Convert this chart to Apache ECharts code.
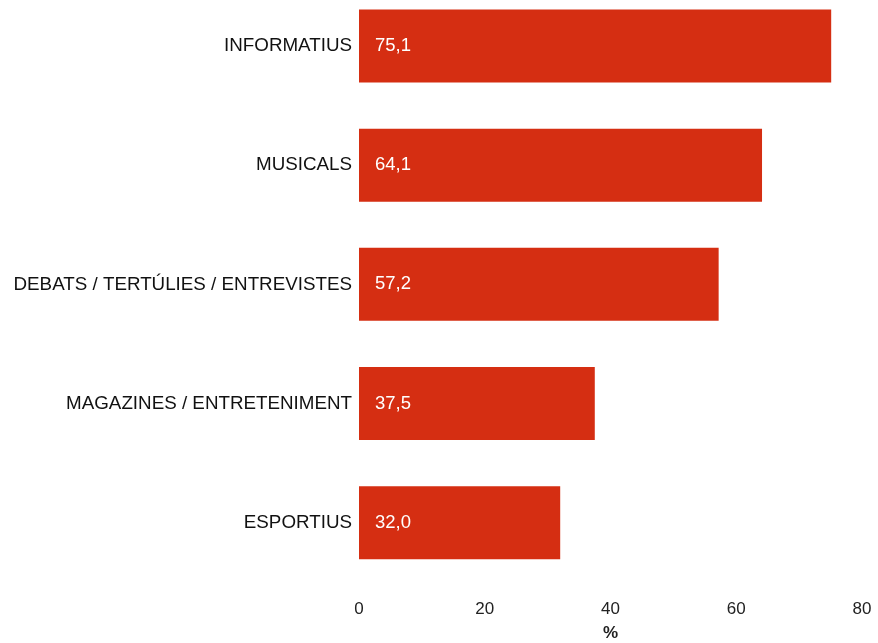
<!DOCTYPE html>
<html><head><meta charset="utf-8">
<script src="https://cdn.jsdelivr.net/npm/echarts@6/dist/echarts.min.js"></script>
<style>html,body{margin:0;padding:0;background:#fff}#c{width:878px;height:643px}</style>
</head><body><div id="c"></div>
<script>
const categories = ["INFORMATIUS", "MUSICALS", "DEBATS / TERTÚLIES / ENTREVISTES", "MAGAZINES / ENTRETENIMENT", "ESPORTIUS"];
const values = [75.1, 64.1, 57.2, 37.5, 32.0];
const xTicks = [0, 20, 40, 60, 80];

const chart = echarts.init(document.getElementById('c'), null, {renderer: 'canvas'});
const font = '"Liberation Sans", Arial, sans-serif';
chart.setOption({
  animation: false,
  backgroundColor: '#fff',
  grid: {left: 359, right: 16, top: 46, bottom: 120.3, containLabel: false, outerBoundsMode: 'none'},
  xAxis: {
    type: 'value', min: xTicks[0], max: xTicks[xTicks.length-1], interval: 20,
    axisLine: {show: false}, axisTick: {show: false}, splitLine: {show: false},
    axisLabel: {color: '#222', fontFamily: font, fontSize: 17, margin: 78},
    name: '%', nameLocation: 'middle', nameGap: 102,
    nameTextStyle: {color: '#222', fontFamily: font, fontSize: 17, fontWeight: 'bold'}
  },
  yAxis: {
    type: 'category', data: categories, inverse: true, boundaryGap: false,
    axisLine: {show: false}, axisTick: {show: false}, splitLine: {show: false},
    axisLabel: {color: '#111', fontFamily: font, fontSize: 18.8, margin: 7}
  },
  series: [{
    type: 'bar', data: values, barWidth: 73,
    itemStyle: {color: '#D52E12'},
    label: {show: true, position: 'insideLeft', distance: 16, color: '#fff', fontFamily: font, fontSize: 18.5,
      formatter: p => p.value.toFixed(1).replace('.', ',')}
  }]
});
</script></body></html>
